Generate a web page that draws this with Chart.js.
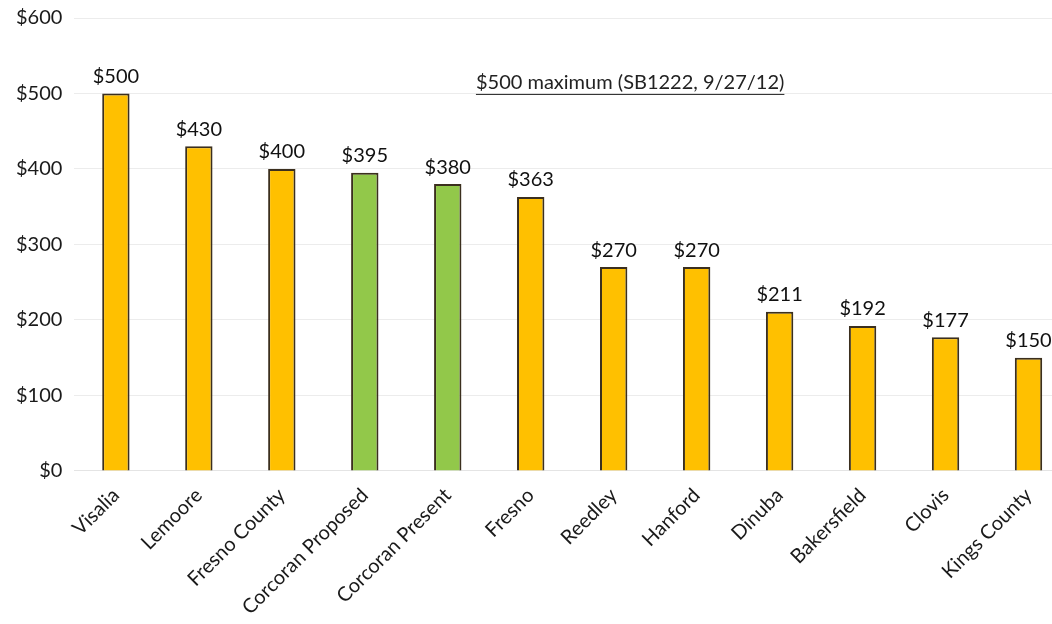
<!DOCTYPE html>
<html>
<head>
<meta charset="utf-8">
<script src="https://cdn.jsdelivr.net/npm/chart.js@4"></script>
<style>
  html, body { margin: 0; padding: 0; background: #fff; overflow: hidden; }
  #wrap { width: 1070px; height: 624px; position: relative; }
</style>
</head>
<body>
<div id="wrap"><canvas id="chart"></canvas></div>
<script>
// Permit fee by city (dollars)
var cities = ['Visalia', 'Lemoore', 'Fresno County', 'Corcoran Proposed', 'Corcoran Present',
  'Fresno', 'Reedley', 'Hanford', 'Dinuba', 'Bakersfield', 'Clovis', 'Kings County'];
var fees = [500, 430, 400, 395, 380, 363, 270, 270, 211, 192, 177, 150];
var isCorcoran = [false, false, false, true, true, false, false, false, false, false, false, false];
var yTicks = [0, 100, 200, 300, 400, 500, 600];
var noteText = '$500 maximum (SB1222, 9/27/12)';

var YELLOW = '#FFC000';
var GREEN = '#92C84A';
var EDGE = '#3b2f1e';
var FONT = 'Lato, "Open Sans", sans-serif';

// value labels above each bar + the underlined note
var labelPlugin = {
  id: 'labels',
  afterDatasetsDraw: function(chart) {
    var ctx = chart.ctx;
    var meta = chart.getDatasetMeta(0);
    ctx.save();
    ctx.fillStyle = '#111';
    ctx.font = '20px ' + FONT;
    ctx.textAlign = 'center';
    ctx.textBaseline = 'bottom';
    meta.data.forEach(function(bar, i) {
      ctx.fillText('$' + fees[i], bar.x, bar.y - 7);
    });

    var xs = chart.scales.x, ys = chart.scales.y;
    var cx = (xs.getPixelForValue(6) + xs.getPixelForValue(7)) / 2 - 25;
    var cy = ys.getPixelForValue(514);
    ctx.fillStyle = '#222';
    ctx.textBaseline = 'middle';
    ctx.fillText(noteText, cx, cy);
    var w = ctx.measureText(noteText).width;
    ctx.strokeStyle = '#222';
    ctx.lineWidth = 1;
    ctx.beginPath();
    ctx.moveTo(cx - w / 2, cy + 11.5);
    ctx.lineTo(cx + w / 2, cy + 11.5);
    ctx.stroke();
    ctx.restore();
  }
};

new Chart(document.getElementById('chart'), {
  type: 'bar',
  data: {
    labels: cities,
    datasets: [{
      data: fees,
      backgroundColor: isCorcoran.map(function(c) { return c ? GREEN : YELLOW; }),
      borderColor: EDGE,
      borderWidth: 2,
      borderSkipped: 'bottom',
      barPercentage: 1,
      categoryPercentage: 0.33
    }]
  },
  options: {
    responsive: true,
    maintainAspectRatio: false,
    animation: false,
    layout: { padding: { top: 0, left: 4, right: 0, bottom: 0 } },
    plugins: {
      legend: { display: false },
      tooltip: { enabled: false }
    },
    scales: {
      x: {
        grid: { display: false },
        border: { color: '#e4e4e4' },
        ticks: {
          color: '#1a1a1a',
          maxRotation: 45,
          minRotation: 45,
          autoSkip: false,
          padding: 4.5,
          font: { family: FONT, size: 20 }
        }
      },
      y: {
        min: 0,
        max: 600,
        afterBuildTicks: function(axis) {
          axis.ticks = yTicks.map(function(v) { return { value: v }; });
        },
        grid: { color: '#ececec', drawTicks: false },
        border: { display: false },
        ticks: {
          color: '#1a1a1a',
          padding: 12,
          font: { family: FONT, size: 20, lineHeight: 0.6 },
          callback: function(v) { return '$' + v; }
        }
      }
    }
  },
  plugins: [labelPlugin]
});
</script>
</body>
</html>
